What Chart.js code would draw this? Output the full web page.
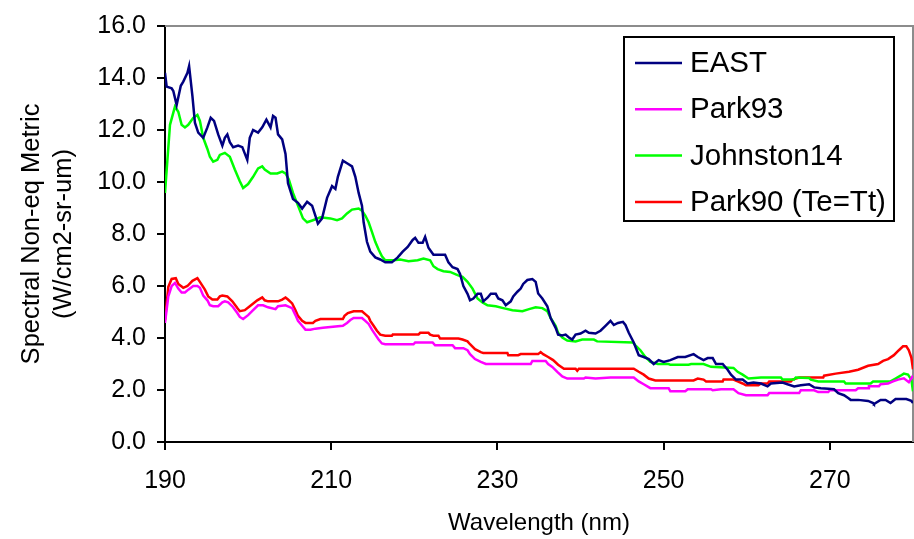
<!DOCTYPE html>
<html>
<head>
<meta charset="utf-8">
<title>Spectral Non-eq Metric</title>
<script src="https://cdn.jsdelivr.net/npm/chart.js@4.4.0/dist/chart.umd.js"></script>
<style>
  html, body { margin: 0; padding: 0; background: #fff; }
  canvas { display: block; }
</style>
</head>
<body>
<canvas id="chart" width="914" height="539"></canvas>
<script>
// wavelength (nm) and radiance values for each curve
const eastNm = [190.0,190.2,190.8,191.0,191.4,191.9,192.2,192.7,192.9,193.3,193.6,194.0,194.6,195.1,195.5,195.9,196.4,196.9,197.2,197.5,197.8,198.2,198.8,199.3,199.9,200.2,200.6,201.2,201.7,202.2,202.7,203.0,203.3,203.6,204.1,204.5,204.8,205.4,206.0,206.5,207.1,207.7,208.1,208.4,208.9,209.5,210.1,210.5,210.8,211.4,212.0,212.5,212.9,213.3,213.7,213.9,214.3,214.7,215.3,215.9,216.5,217.3,218.0,218.6,219.2,219.8,220.1,220.5,221.0,221.3,221.7,222.3,223.7,224.1,224.6,225.2,225.5,225.9,226.4,226.7,227.1,227.6,228.0,228.3,228.8,229.2,229.8,230.1,230.6,231.0,231.6,231.9,232.4,232.8,233.1,233.6,234.2,234.6,234.9,235.4,236.0,236.4,237.0,237.3,237.8,238.2,238.6,239.0,239.4,240.0,240.6,241.0,241.8,242.4,243.0,243.6,244.0,244.5,245.1,245.4,245.8,246.4,247.0,247.6,248.2,248.8,249.4,250.0,250.8,251.7,252.6,253.6,254.1,254.8,255.3,255.9,256.3,257.1,257.7,258.1,258.7,259.5,260.1,260.8,261.7,262.5,262.9,264.3,264.9,265.7,266.5,267.5,268.1,268.9,269.8,270.5,271.0,271.7,272.2,272.5,273.4,274.6,275.2,275.3,276.1,276.7,277.3,277.9,279.2,279.8,280.0];
const eastVal = [14.2,13.67,13.6,13.5,12.96,13.7,13.86,14.2,14.46,13.3,12.28,11.9,11.7,12.1,12.47,12.35,11.83,11.4,11.7,11.83,11.53,11.34,11.4,11.34,10.85,11.7,12.0,11.9,12.1,12.4,12.1,12.54,12.47,11.83,11.64,11.08,9.95,9.35,9.2,8.98,9.24,9.09,8.7,8.4,8.6,9.39,9.84,9.73,10.2,10.82,10.7,10.6,10.2,9.58,9.09,8.45,7.7,7.32,7.1,7.02,6.91,6.91,7.1,7.32,7.5,7.77,7.85,7.66,7.66,7.89,7.47,7.2,7.2,6.91,6.72,6.65,6.46,6.0,5.7,5.45,5.52,5.7,5.7,5.41,5.55,5.7,5.7,5.52,5.45,5.26,5.41,5.6,5.78,5.9,6.08,6.23,6.27,6.16,5.71,5.52,5.22,4.77,4.39,4.13,4.1,4.13,4.02,3.94,4.13,4.17,4.28,4.2,4.17,4.28,4.47,4.66,4.5,4.58,4.62,4.5,4.2,3.83,3.34,3.27,3.19,3.0,3.15,3.08,3.15,3.27,3.27,3.38,3.27,3.15,3.23,3.23,3.0,3.0,2.78,2.59,2.4,2.4,2.25,2.29,2.25,2.14,2.25,2.29,2.22,2.14,2.18,2.22,2.1,2.07,2.05,2.03,1.88,1.8,1.69,1.62,1.62,1.58,1.5,1.46,1.62,1.62,1.5,1.65,1.65,1.58,1.5];

const park93Nm = [190.0,190.4,190.8,191.2,191.6,192.0,192.4,192.8,193.4,193.9,194.2,194.6,195.1,195.4,195.8,196.4,196.9,197.2,197.6,198.1,198.7,199.0,199.4,200.0,200.6,201.2,201.8,202.4,203.3,203.6,204.5,204.8,205.3,205.7,206.0,206.5,206.9,207.5,208.1,209.0,211.4,211.9,212.3,212.7,213.7,214.1,214.5,214.9,215.3,215.7,216.1,216.5,219.9,220.1,222.2,222.5,224.6,224.9,225.9,226.4,226.7,227.3,228.0,228.6,234.0,234.2,235.8,236.1,236.6,237.2,237.8,238.4,240.4,240.6,241.8,243.6,246.4,247.0,247.6,248.4,250.6,250.8,252.6,252.9,255.7,255.9,256.9,258.4,259.0,259.9,262.5,262.7,266.3,266.5,268.1,268.6,269.8,270.0,273.1,273.4,274.6,274.7,275.9,276.1,277.0,277.6,278.2,278.9,279.5,280.0];
const park93Val = [4.58,5.6,6.0,6.12,5.9,5.75,5.75,5.86,6.0,6.0,5.93,5.63,5.45,5.26,5.22,5.22,5.37,5.41,5.37,5.22,4.96,4.81,4.73,4.88,5.07,5.26,5.26,5.18,5.11,5.22,5.26,5.22,5.15,4.88,4.66,4.47,4.32,4.32,4.36,4.39,4.47,4.58,4.69,4.77,4.77,4.66,4.54,4.32,4.13,3.94,3.79,3.76,3.76,3.83,3.83,3.72,3.72,3.61,3.61,3.53,3.38,3.19,3.08,3.0,3.0,3.12,3.12,3.0,2.89,2.7,2.52,2.44,2.44,2.48,2.44,2.48,2.48,2.33,2.22,2.07,2.07,1.95,1.95,2.03,2.03,1.99,2.03,2.03,1.88,1.8,1.8,1.88,1.88,1.99,1.99,1.92,1.92,1.99,1.99,2.07,2.07,2.14,2.14,2.22,2.25,2.33,2.4,2.45,2.3,2.55];

const johnstonNm = [190.0,190.6,191.2,191.6,192.0,192.4,192.8,193.4,193.9,194.2,194.6,195.1,195.4,195.8,196.3,196.6,197.2,197.8,198.4,199.0,199.4,200.0,200.6,201.2,201.7,202.0,202.7,203.5,204.1,204.5,204.9,205.4,206.0,206.6,207.1,207.8,208.7,209.9,210.7,211.3,211.9,212.5,213.3,213.7,214.1,214.5,214.9,215.3,215.7,216.1,216.5,217.5,218.3,219.3,220.4,221.1,221.9,222.3,222.8,223.5,224.3,225.2,225.8,226.4,227.0,227.6,228.2,228.8,229.8,230.7,231.8,233.0,233.8,234.6,235.4,236.0,236.4,237.0,237.3,237.8,238.4,239.4,240.2,241.6,242.0,246.3,246.6,247.2,247.8,248.4,249.3,250.6,250.8,253.0,253.3,254.8,255.7,258.4,258.9,259.5,260.2,261.7,264.1,264.3,265.7,265.9,267.5,267.7,268.6,271.7,271.9,274.9,275.2,277.3,277.9,278.5,278.9,279.4,279.8,280.0];
const johnstonVal = [9.58,12.2,12.9,12.7,12.2,12.1,12.2,12.47,12.58,12.35,11.7,11.27,10.97,10.78,10.85,11.04,11.12,10.97,10.48,10.03,9.77,9.92,10.2,10.52,10.6,10.48,10.33,10.33,10.4,10.33,10.1,9.58,9.09,8.6,8.45,8.53,8.64,8.6,8.53,8.6,8.79,8.94,8.98,8.9,8.71,8.45,8.08,7.7,7.4,7.14,6.99,6.99,7.02,6.95,6.99,7.06,6.99,6.76,6.65,6.57,6.54,6.42,6.35,6.16,5.9,5.52,5.37,5.26,5.22,5.15,5.07,5.03,5.11,5.18,5.15,5.03,4.77,4.47,4.2,4.02,3.9,3.87,3.94,3.94,3.87,3.83,3.72,3.53,3.27,3.08,3.0,3.0,2.97,2.97,3.0,3.0,2.89,2.85,2.7,2.59,2.44,2.48,2.48,2.4,2.4,2.48,2.46,2.4,2.33,2.33,2.25,2.25,2.33,2.33,2.44,2.55,2.63,2.59,2.4,1.95];

const park90Nm = [190.0,190.4,190.8,191.3,191.6,192.2,192.7,193.3,193.9,194.2,194.8,195.2,195.7,196.3,196.6,196.9,197.5,198.1,198.7,199.0,199.6,200.2,201.1,201.7,202.0,202.4,203.6,204.1,204.5,204.8,205.3,205.7,206.0,206.5,206.9,207.8,208.1,208.7,211.4,211.6,212.0,212.7,213.7,214.1,214.5,214.7,215.1,215.5,215.9,216.5,217.3,217.4,220.5,220.7,221.7,221.9,222.3,222.9,223.1,225.3,225.8,226.4,226.7,227.3,228.0,228.3,231.2,231.3,232.5,232.8,234.9,235.2,235.5,236.1,236.7,237.3,238.0,239.4,239.6,239.8,246.4,247.0,247.6,248.2,249.0,253.6,254.1,254.8,255.1,257.1,257.2,258.4,258.9,259.5,259.9,261.4,261.7,262.5,262.7,265.3,265.5,266.3,269.2,269.3,270.7,272.3,273.4,274.6,275.8,276.4,277.0,277.7,278.3,278.8,279.2,279.5,279.8,280.0];
const park90Val = [4.69,5.97,6.27,6.3,6.08,5.93,6.0,6.2,6.3,6.16,5.86,5.6,5.48,5.48,5.6,5.63,5.6,5.41,5.15,5.03,5.07,5.22,5.45,5.56,5.45,5.41,5.41,5.48,5.56,5.48,5.33,5.07,4.85,4.66,4.58,4.58,4.66,4.73,4.73,4.85,4.96,5.03,5.03,4.92,4.81,4.66,4.47,4.28,4.13,4.09,4.09,4.13,4.13,4.2,4.2,4.13,4.09,4.09,3.98,3.98,3.94,3.87,3.76,3.57,3.46,3.42,3.42,3.34,3.34,3.38,3.38,3.46,3.38,3.27,3.15,2.97,2.82,2.82,2.74,2.82,2.82,2.7,2.59,2.44,2.37,2.37,2.44,2.4,2.33,2.33,2.4,2.4,2.33,2.25,2.18,2.18,2.25,2.25,2.33,2.33,2.4,2.48,2.48,2.55,2.63,2.7,2.78,2.93,3.0,3.12,3.19,3.34,3.53,3.68,3.68,3.53,3.25,2.8];

const seriesNames = ['EAST', 'Park93', 'Johnston14', 'Park90 (Te=Tt)'];
const seriesColors = ['#000080', '#ff00ff', '#00ff00', '#ff0000'];
const xTickValues = [190, 210, 230, 250, 270];

const FONT = 'Arial, "Liberation Sans", sans-serif';

function toPoints(xs, ys) {
  return xs.map((x, i) => ({ x: x, y: ys[i] }));
}

const seriesData = [
  toPoints(eastNm, eastVal),
  toPoints(park93Nm, park93Val),
  toPoints(johnstonNm, johnstonVal),
  toPoints(park90Nm, park90Val)
];

// gray frame on the top and right of the plot area
const plotFrame = {
  id: 'plotFrame',
  beforeDatasetsDraw(chart) {
    const { ctx, chartArea: a } = chart;
    ctx.save();
    ctx.strokeStyle = '#8c8c8c';
    ctx.lineWidth = 2;
    ctx.beginPath();
    ctx.moveTo(a.left, a.top);
    ctx.lineTo(a.right, a.top);
    ctx.lineTo(a.right, a.bottom);
    ctx.stroke();
    ctx.restore();
  }
};

// boxed legend inside the plot, top right
const boxLegend = {
  id: 'boxLegend',
  afterDraw(chart) {
    const ctx = chart.ctx;
    const bx = 624, by = 37, bw = 270, bh = 184;
    ctx.save();
    ctx.fillStyle = '#fff';
    ctx.fillRect(bx, by, bw, bh);
    ctx.strokeStyle = '#000';
    ctx.lineWidth = 2;
    ctx.strokeRect(bx, by, bw, bh);
    ctx.font = '29.5px ' + FONT;
    ctx.textBaseline = 'middle';
    ctx.textAlign = 'left';
    chart.data.datasets.forEach((ds, i) => {
      const y = 63 + i * 46.3;
      ctx.strokeStyle = ds.borderColor;
      ctx.lineWidth = 2.5;
      ctx.beginPath();
      ctx.moveTo(635, y);
      ctx.lineTo(682, y);
      ctx.stroke();
      ctx.fillStyle = '#000';
      ctx.fillText(ds.label, 690, y + 1);
    });
    ctx.restore();
  }
};

new Chart(document.getElementById('chart'), {
  type: 'line',
  data: {
    datasets: seriesNames.map((name, i) => ({
      label: name,
      data: seriesData[i],
      borderColor: seriesColors[i],
      backgroundColor: seriesColors[i],
      borderWidth: 2.5,
      pointRadius: 0,
      tension: 0,
      fill: false
    }))
  },
  options: {
    responsive: false,
    animation: false,
    devicePixelRatio: 1,
    layout: { padding: { top: 16, right: 1, left: 0, bottom: 0 } },
    plugins: {
      legend: { display: false },
      tooltip: { enabled: false }
    },
    scales: {
      x: {
        type: 'linear',
        min: 190,
        max: 280,
        afterBuildTicks(scale) {
          scale.ticks = xTickValues.map(v => ({ value: v }));
        },
        afterFit(scale) { scale.height = 97; },
        border: { color: '#000', width: 2 },
        grid: { drawOnChartArea: false, drawTicks: true, tickLength: 8, color: '#000', lineWidth: 2 },
        ticks: {
          color: '#000',
          font: { family: FONT, size: 25 },
          padding: 16,
          maxRotation: 0,
          callback: v => String(v)
        },
        title: {
          display: true,
          text: 'Wavelength (nm)',
          color: '#000',
          font: { family: FONT, size: 24 },
          padding: { top: 0, bottom: 1 }
        }
      },
      y: {
        min: 0,
        max: 16,
        afterFit(scale) { scale.width = 165; },
        border: { color: '#000', width: 2 },
        grid: { drawOnChartArea: false, drawTicks: true, tickLength: 8, color: '#000', lineWidth: 2 },
        ticks: {
          stepSize: 2,
          color: '#000',
          font: { family: FONT, size: 25 },
          padding: 11,
          callback: v => v.toFixed(1)
        },
        title: {
          display: true,
          text: ['Spectral Non-eq Metric', '(W/cm2-sr-um)'],
          color: '#000',
          font: { family: FONT, size: 25.5, lineHeight: 1.25 },
          padding: { top: 16, bottom: 0 }
        }
      }
    }
  },
  plugins: [plotFrame, boxLegend]
});
</script>
</body>
</html>
